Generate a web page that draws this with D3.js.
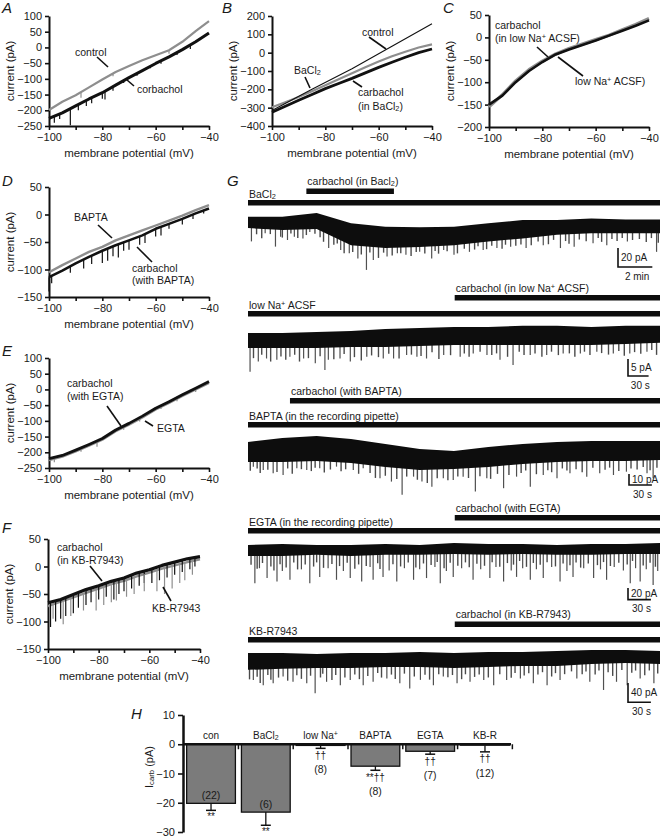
<!DOCTYPE html>
<html>
<head>
<meta charset="utf-8">
<script src="https://cdn.jsdelivr.net/npm/d3@7"></script>
<style>
body { margin: 0; background: #fff; }
svg { display: block; }
text { font-family: 'Liberation Sans', Arial, Helvetica, sans-serif; fill: #1a1a1a; }
</style>
</head>
<body>
<script>
// ---- I-V panels (A-F) ----
const ivVolts = [-100, -95, -90, -85, -80, -75, -70, -65, -60, -55, -50, -45, -40];
const ivTicksX = [-100, -90, -80, -70, -60, -50, -40];
const ivLabelsX = [-100, -80, -60, -40];

const aTicksY = [-250, -200, -150, -100, -50, 0, 50, 100];
const aControl = [-199, -173, -152, -127, -102, -78, -59, -41, -25, -9, 18, 52, 84];
const aCarb = [-226, -208, -186, -164, -144, -120, -96, -74, -51, -30, -7, 18, 46];
const aControlSpikes = [[-88, -160], [-76, -92], [-55, -20], [-52, 8]];
const aCarbSpikes = [[-98, -240], [-96, -228], [-92, -248], [-89, -200], [-86, -186], [-84, -178], [-80, -163],
  [-79, -166], [-76, -138], [-72, -113], [-67, -90], [-62, -66], [-58, -52], [-52, -24], [-47, -5]];

const bTicksY = [-400, -300, -200, -100, 0, 100, 200];
const bControlVolts = [-100, -85, -70, -55, -40];
const bControl = [-315, -200, -88, 35, 158];
const bBaCl2 = [-298, -270, -242, -210, -178, -145, -112, -80, -48, -20, 5, 28, 45];
const bCarb = [-325, -292, -260, -228, -196, -168, -140, -110, -80, -52, -25, 0, 20];

const cTicksY = [-200, -150, -100, -50, 0, 50];
const cLowNa = [-155, -128, -97, -72, -53, -37, -25, -15, -5, 5, 17, 29, 42];
const cCarb = [-150, -130, -100, -75, -55, -38, -27, -17, -7, 4, 15, 26, 38];

const dTicksY = [-150, -100, -50, 0, 50];
const dBapta = [-105, -92, -80, -68, -59, -47, -38, -29, -20, -11, -2, 8, 17];
const dCarb = [-114, -102, -89, -77, -66, -56, -47, -38, -26, -17, -8, 2, 11];
const dCarbSpikes = [[-100, -140], [-99, -125], [-92, -106], [-87, -98], [-84, -90], [-80, -88], [-78, -84], [-76, -76],
  [-74, -78], [-72, -66], [-70, -64], [-66, -55], [-64, -52], [-60, -40], [-58, -38], [-55, -26], [-50, -18], [-46, -8], [-42, 2]];

const eTicksY = [-250, -200, -150, -100, -50, 0, 50, 100];
const eEgta = [-225, -214, -197, -179, -160, -133, -112, -89, -64, -43, -21, 0, 21];
const eCarb = [-220, -210, -193, -175, -156, -129, -108, -85, -60, -39, -17, 4, 25];
const eEgtaSpikes = [[-98, -232], [-88, -198], [-82, -182], [-72, -128], [-66, -102], [-58, -62], [-52, -38], [-45, -8]];

const fTicksY = [-150, -100, -50, 0, 50];
const fKbr = [-72, -64, -56, -48, -40, -32, -26, -18, -11, -4, 2, 8, 13];
const fCarb = [-66, -60, -51, -42, -35, -27, -21, -12, -6, 2, 8, 14, 18];
const fCarbSpikes = [[-99, -110], [-97, -100], [-95, -95], [-93, -90], [-90, -85], [-88, -75], [-85, -70], [-83, -65],
  [-80, -60], [-77, -55], [-74, -60], [-72, -50], [-70, -45], [-67, -40], [-64, -35], [-62, -30], [-59, -30],
  [-56, -25], [-53, -20], [-50, -15], [-47, -10], [-44, -5], [-42, 0]];
const fKbrSpikes = [[-98, -95], [-94, -105], [-91, -90], [-86, -80], [-81, -80], [-78, -70], [-75, -65], [-73, -62],
  [-69, -55], [-66, -50], [-62, -45], [-57, -45], [-54, -50], [-51, -40], [-48, -30], [-46, -25], [-43, -15]];

// ---- G: current traces (band top / bottom in pA, big events [time, pA], small events [time, amplitude]) ----
const g1Time = [0, 2, 4, 6, 8, 10, 12, 14, 16, 18, 20, 22, 24];            // min
const g1Top = [0, 0, 4, -7, -10.5, -11, -10.5, -7, -3.5, -3.5, -2, -3, -3];
const g1Bottom = [-12, -14, -13, -30, -33, -32, -30, -26, -23, -19, -17.5, -17.5, -17.5];
const g1Spikes = [[0.2, -26], [1.0, -17.5], [1.6, -31.5], [1.9, -21], [2.3, -24.5], [2.7, -21], [3.2, -23], [3.6, -16],
  [4.7, -33], [5.4, -35], [5.9, -38.5], [6.4, -44], [6.9, -56], [7.3, -45.5], [8.1, -42], [8.7, -38.5], [9.2, -40],
  [10.0, -37], [10.7, -44], [11.4, -35], [12.0, -40], [12.9, -37], [13.7, -35], [14.5, -33], [15.3, -31.5], [16.2, -33],
  [17.2, -30], [18.2, -33], [19.0, -31.5], [20.1, -28], [20.9, -30], [22.1, -26], [23.8, -37]];
const g1Small = [[0.5, 6], [0.8, 10], [1.3, 5], [2.0, 8], [2.5, 4], [2.9, 9], [3.4, 6], [3.9, 5], [4.2, 7], [4.4, 10],
  [5.0, 8], [5.2, 5], [5.6, 12], [6.1, 7], [6.6, 9], [7.1, 6], [7.6, 11], [7.9, 5], [8.4, 8], [8.9, 6], [9.5, 9],
  [9.8, 5], [10.3, 7], [10.9, 5], [11.1, 8], [11.6, 6], [12.2, 9], [12.6, 5], [13.2, 7], [13.4, 4], [13.9, 8],
  [14.2, 5], [14.8, 9], [15.0, 5], [15.6, 7], [15.9, 6], [16.5, 8], [16.9, 5], [17.5, 9], [17.8, 5], [18.5, 7],
  [18.7, 10], [19.3, 6], [19.7, 8], [20.4, 5], [20.6, 9], [21.2, 6], [21.5, 8], [21.8, 5], [22.4, 7], [22.8, 6],
  [23.2, 9], [23.5, 5], [23.9, 10]];

const g2Time = [0, 50, 100, 150, 200, 250, 300, 350, 400, 450, 500, 550, 600]; // s
const g2Top = [0, 0, 0.3, 0.6, 1.2, 1.5, 1.8, 1.8, 2.1, 2.1, 1.8, 2.1, 2.1];
const g2Bottom = [-4.4, -4.4, -4.4, -4.1, -4.1, -3.8, -3.5, -3.5, -3.5, -3.5, -3.5, -3.2, -2.9];
const g2Spikes = [[3, -11.4], [15, -8.4], [27, -7.5], [42, -7.9], [61, -7], [81, -7.5], [98, -8.9], [112, -10.9],
  [117, -7.9], [134, -7.5], [149, -8.4], [173, -7], [197, -7.5], [212, -7.5], [231, -6.5], [246, -7], [260, -7.5],
  [285, -6.5], [309, -7], [328, -6], [348, -6.5], [367, -7.9], [386, -9.4], [411, -6.5], [435, -6.5], [459, -6],
  [484, -6], [508, -5.5], [532, -6], [556, -6], [581, -5.5]];
const g2Small = [[8, 3], [20, 2], [33, 4], [48, 2.5], [55, 3.5], [68, 2], [75, 4], [88, 3], [105, 2.5], [125, 3.5],
  [140, 2], [155, 3], [165, 4], [180, 2.5], [190, 3], [205, 2], [220, 3.5], [238, 2.5], [252, 3], [268, 2], [278, 4],
  [295, 3], [315, 2.5], [322, 3.5], [338, 2], [355, 3], [362, 2.5], [378, 3.5], [395, 2], [402, 3], [418, 2.5],
  [428, 3.5], [442, 2], [452, 3], [468, 2.5], [476, 3.5], [490, 2], [498, 3], [515, 2.5], [525, 3], [540, 2],
  [548, 3.5], [563, 2.5], [572, 3], [588, 2], [595, 3.5]];

const g3Time = [0, 45, 90, 135, 180, 225, 270, 315, 360, 405, 450, 495, 540]; // s
const g3Top = [0, 3.6, 5.5, 2.7, -1.8, -6.4, -8.2, -4.5, -1.8, 0, 0.9, 0.9, 0.9];
const g3Bottom = [-18.2, -18.2, -17.3, -19.1, -22.7, -25.5, -24.5, -22.7, -20, -18.2, -17.3, -17.3, -16.4];
const g3Spikes = [[7, -22.4], [20, -25.5], [33, -28.5], [46, -30], [64, -23.9], [77, -25.5], [94, -23.9], [116, -22.4],
  [138, -25.5], [151, -23.9], [173, -33], [188, -36], [202, -48], [217, -31.5], [228, -36], [241, -40.6], [256, -33],
  [269, -34.5], [282, -31.5], [298, -45], [313, -33], [335, -42], [352, -31.5], [370, -40.6], [387, -30], [405, -33],
  [422, -28.5], [444, -31.5], [461, -28.5], [479, -30], [496, -27], [523, -28.5], [531, -33]];
const g3Small = [[3, 8], [12, 6], [16, 10], [26, 7], [38, 9], [52, 6], [58, 11], [70, 7], [83, 9], [88, 6], [100, 10],
  [108, 7], [122, 8], [128, 6], [145, 9], [160, 7], [167, 11], [180, 8], [195, 10], [208, 7], [222, 9], [235, 12],
  [248, 8], [262, 10], [275, 7], [289, 9], [304, 8], [318, 11], [327, 7], [342, 9], [358, 8], [364, 6], [378, 10],
  [393, 7], [398, 9], [412, 6], [418, 8], [430, 7], [438, 10], [452, 6], [468, 8], [474, 6], [486, 9], [502, 7],
  [510, 8], [518, 6], [527, 9], [536, 7]];

const g4Time = [0, 45, 90, 135, 180, 225, 270, 315, 360, 405, 450, 495, 540]; // s
const g4Top = [0, 1.7, 0, 0, 1.7, 0, 3.4, 1.7, 1.7, 0, 1.7, 1.7, 3.4];
const g4Bottom = [-19, -19, -17, -19, -17, -17, -15.5, -17, -15.5, -17, -17, -15.5, -15.5];
const g4Spikes = [[9, -66], [15, -40], [25, -57], [38, -63], [45, -45], [55, -60], [70, -42], [81, -66], [94, -55],
  [105, -40], [116, -60], [125, -45], [134, -57], [149, -63], [160, -38], [164, -60], [177, -55], [185, -44],
  [195, -63], [205, -40], [217, -60], [225, -42], [234, -57], [245, -38], [252, -66], [260, -45], [269, -55],
  [280, -40], [295, -60], [305, -42], [317, -57], [325, -38], [335, -63], [345, -44], [352, -55], [360, -40],
  [370, -60], [378, -42], [387, -57], [398, -38], [409, -63], [418, -45], [426, -55], [440, -40], [453, -57],
  [462, -42], [470, -60], [480, -38], [492, -44], [501, -66], [508, -40], [514, -63], [522, -42], [531, -69], [537, -45]];
const g4Small = [[4, 15], [12, 22], [19, 12], [30, 18], [34, 25], [42, 14], [50, 20], [60, 12], [65, 24], [75, 16],
  [86, 20], [90, 13], [99, 22], [110, 15], [120, 18], [130, 12], [140, 22], [145, 15], [155, 18], [170, 14], [173, 24],
  [190, 16], [200, 20], [210, 13], [220, 22], [230, 15], [240, 18], [248, 13], [257, 24], [265, 15], [275, 20],
  [285, 14], [290, 22], [300, 16], [310, 19], [320, 13], [330, 21], [340, 15], [348, 18], [356, 12], [365, 22],
  [374, 15], [383, 18], [392, 13], [403, 20], [413, 15], [422, 18], [430, 13], [436, 22], [446, 15], [458, 18],
  [466, 13], [475, 20], [486, 15], [497, 18], [504, 12], [518, 20], [527, 15], [534, 22]];

const g5Time = [0, 45, 90, 135, 180, 225, 270, 315, 360, 405, 450, 495, 540]; // s
const g5Top = [0, 0, -2, 0, 0, 2, 0, 2, 2, 4, 6, 6, 4];
const g5Bottom = [-35, -33, -31, -31, -29, -29, -31, -29, -27, -27, -23, -21, -23];
const g5Spikes = [[7, -56], [20, -67], [33, -63], [46, -49], [59, -60], [77, -63], [88, -84], [103, -60], [121, -67],
  [134, -56], [151, -67], [164, -60], [182, -53], [199, -63], [212, -74], [226, -56], [243, -67], [256, -49],
  [274, -63], [291, -60], [309, -56], [322, -67], [339, -56], [357, -53], [374, -63], [392, -67], [409, -56],
  [431, -53], [448, -60], [466, -77], [483, -60], [497, -67], [514, -53], [532, -63]];
const g5Small = [[2, 20], [12, 15], [16, 28], [26, 12], [30, 22], [40, 18], [52, 25], [64, 14], [70, 22], [82, 16],
  [95, 20], [98, 12], [110, 25], [115, 15], [127, 20], [140, 14], [146, 24], [157, 18], [170, 12], [175, 22], [188, 16],
  [193, 25], [205, 14], [218, 20], [232, 16], [238, 26], [250, 14], [262, 20], [268, 15], [280, 24], [285, 14],
  [297, 20], [303, 15], [315, 22], [330, 16], [345, 24], [350, 14], [362, 20], [368, 15], [380, 18], [386, 13],
  [398, 22], [403, 15], [415, 18], [424, 13], [438, 20], [443, 15], [455, 22], [460, 14], [472, 18], [478, 26],
  [490, 14], [503, 20], [508, 15], [520, 24], [526, 14], [537, 20]];

// drug application windows [start, end] in each trace's time units
const g1Carb = [3.4, 8.5], g2Carb = [301, 600], g3Carb = [55, 540], g4Carb = [271, 540], g5Carb = [271, 540];

// ---- H: bar chart ----
const hCategories = ["con", "BaCl_2", "low Na^+", "BAPTA", "EGTA", "KB-R"];
const hMeans = [-20.2, -23.2, -0.4, -7.5, -2.4, -0.3];
const hSem = [2.4, 4.5, 1.0, 1.4, 1.0, 2.3];
const hN = ["(22)", "(6)", "(8)", "(8)", "(7)", "(12)"];
const hSig = ["**", "**", "††", "**††", "††", "††"];
const hTicksY = [-30, -20, -10, 0, 10];

const svg = d3.select("body").append("svg").attr("width", 665).attr("height", 837);

const minus = d => d < 0 ? "\u2212" + Math.abs(d) : String(d);

// "_x" / "_{xy}" subscript, "^x" superscript
function rich(text, str) {
  const parts = [];
  let buf = "";
  for (let i = 0; i < str.length; i++) {
    const c = str[i];
    if ((c === "_" || c === "^") && i + 1 < str.length) {
      if (buf) parts.push({ t: buf });
      buf = "";
      let t;
      if (str[i + 1] === "{") {
        const j = str.indexOf("}", i);
        t = str.slice(i + 2, j);
        i = j;
      } else {
        t = str[i + 1];
        i++;
      }
      parts.push({ t, k: c });
    } else buf += c;
  }
  if (buf) parts.push({ t: buf });
  parts.forEach(p => {
    const ts = text.append("tspan").text(p.t);
    if (p.k) ts.attr("font-size", "70%").attr("baseline-shift", p.k === "_" ? "-15%" : "40%");
  });
  return text;
}

function label(x, y, str, size, anchor) {
  const t = svg.append("text").attr("x", x).attr("y", y).attr("dy", "0.35em")
    .attr("font-size", size || 10.5).attr("text-anchor", anchor || "start");
  return rich(t, str);
}

function pointer(x1, y1, x2, y2) {
  svg.append("line").attr("x1", x1).attr("y1", y1).attr("x2", x2).attr("y2", y2)
    .attr("stroke", "#111").attr("stroke-width", 1.6);
}

function letter(x, y, s) {
  svg.append("text").attr("x", x).attr("y", y).attr("font-size", 15).attr("font-style", "italic").text(s);
}

function styleAxis(a, w) {
  a.select(".domain").attr("stroke", "#111").attr("stroke-width", w || 2);
  a.selectAll(".tick line").attr("stroke", "#111").attr("stroke-width", 1.6);
  a.selectAll(".tick text").attr("font-size", 11).attr("fill", "#1a1a1a")
    .attr("font-family", "'Liberation Sans', Arial, sans-serif");
}

function ivPanel(p) {
  const x = d3.scaleLinear().domain([-100, -40]).range([p.x0, p.x1]);
  const y = d3.scaleLinear().domain([p.yTicks[0], p.yTicks[p.yTicks.length - 1]]).range([p.yb, p.yt]);
  const xa = svg.append("g").attr("transform", `translate(0,${p.yb})`)
    .call(d3.axisBottom(x).tickValues(ivTicksX).tickSize(4).tickSizeOuter(0).tickPadding(3)
      .tickFormat(d => ivLabelsX.includes(d) ? minus(d) : ""));
  const ya = svg.append("g").attr("transform", `translate(${p.x0},0)`)
    .call(d3.axisLeft(y).tickValues(p.yTicks).tickSize(4).tickSizeOuter(0).tickPadding(3).tickFormat(minus));
  styleAxis(xa);
  styleAxis(ya);
  svg.append("text").attr("x", (p.x0 + p.x1) / 2).attr("y", p.yb + 27).attr("dy", "0.35em")
    .attr("text-anchor", "middle").attr("font-size", 11.5).text("membrane potential (mV)");
  svg.append("text").attr("transform", `translate(${p.x0 - 39},${(p.yb + p.yt) / 2}) rotate(-90)`)
    .attr("dy", "0.35em").attr("text-anchor", "middle").attr("font-size", 11.5).text("current (pA)");
  const plot = svg.append("g");
  return { x, y, plot };
}

function curve(P, volts, vals, color, w) {
  P.plot.append("path").datum(volts.map((v, i) => [v, vals[i]]))
    .attr("d", d3.line().x(d => P.x(d[0])).y(d => P.y(d[1])))
    .attr("fill", "none").attr("stroke", color).attr("stroke-width", w).attr("stroke-linejoin", "round");
}

function spikes(P, volts, vals, list, color) {
  const along = d3.scaleLinear().domain(volts).range(vals);
  P.plot.selectAll(null).data(list).enter().append("line")
    .attr("x1", d => P.x(d[0])).attr("x2", d => P.x(d[0]))
    .attr("y1", d => P.y(along(d[0]))).attr("y2", d => P.y(d[1]))
    .attr("stroke", color).attr("stroke-width", 1.2);
}

const GRAY = "#8e8e8e", BLACK = "#111";

// A
const A = ivPanel({ x0: 49, x1: 209, yt: 16, yb: 126, yTicks: aTicksY });
spikes(A, ivVolts, aControl, aControlSpikes, GRAY);
curve(A, ivVolts, aControl, GRAY, 2.2);
spikes(A, ivVolts, aCarb, aCarbSpikes, BLACK);
curve(A, ivVolts, aCarb, BLACK, 3);
label(75, 52, "control");
pointer(97, 57, 108, 67);
label(137, 89, "corbachol");
pointer(127, 80, 134, 86);
letter(2, 13, "A");

// B
const B = ivPanel({ x0: 272, x1: 432, yt: 16, yb: 126, yTicks: bTicksY });
curve(B, ivVolts, bCarb, BLACK, 2.8);
curve(B, ivVolts, bBaCl2, GRAY, 2.2);
curve(B, bControlVolts, bControl, BLACK, 1.1);
label(362, 32, "control");
pointer(369, 37, 386, 49);
label(294, 70, "BaCl_2");
pointer(305, 77, 310, 88);
label(358, 92, "carbachol");
label(358, 106, "(in BaCl_2)");
pointer(353, 81, 362, 87);
letter(222, 13, "B");

// C
const C = ivPanel({ x0: 489, x1: 649, yt: 15, yb: 127, yTicks: cTicksY });
curve(C, ivVolts, cLowNa, GRAY, 3.2);
curve(C, ivVolts, cCarb, BLACK, 2.6);
label(495, 25, "carbachol");
label(495, 38, "(in low Na^+ ACSF)");
pointer(537, 47, 548, 57);
label(575, 81, "low Na^+ ACSF)");
pointer(558, 57, 583, 76);
letter(443, 13, "C");

// D
const D = ivPanel({ x0: 49, x1: 209, yt: 187, yb: 297, yTicks: dTicksY });
curve(D, ivVolts, dBapta, GRAY, 2.4);
spikes(D, ivVolts, dCarb, dCarbSpikes, BLACK);
curve(D, ivVolts, dCarb, BLACK, 2.6);
label(74, 217, "BAPTA");
pointer(98, 225, 112, 238);
label(132, 268, "carbachol");
label(132, 280, "(with BAPTA)");
pointer(137, 247, 152, 262);
letter(2, 186, "D");

// E
const E = ivPanel({ x0: 49, x1: 209, yt: 358, yb: 468, yTicks: eTicksY });
spikes(E, ivVolts, eEgta, eEgtaSpikes, GRAY);
curve(E, ivVolts, eEgta, GRAY, 2.4);
curve(E, ivVolts, eCarb, BLACK, 2.8);
label(67, 383, "carbachol");
label(67, 396, "(with EGTA)");
pointer(107, 406, 121, 426);
label(157, 428, "EGTA");
pointer(145, 421, 153, 426);
letter(2, 356, "E");

// F
const F = ivPanel({ x0: 48, x1: 200, yt: 539, yb: 649, yTicks: fTicksY });
curve(F, ivVolts, fKbr, GRAY, 2.4);
spikes(F, ivVolts, fCarb, fCarbSpikes, BLACK);
curve(F, ivVolts, fCarb, BLACK, 3.2);
spikes(F, ivVolts, fKbr, fKbrSpikes, GRAY);
label(57, 547, "carbachol");
label(57, 560, "(in KB-R7943)");
pointer(90, 566, 102, 581);
label(152, 608, "KB-R7943");
pointer(163, 587, 171, 601);
letter(2, 533, "F");

// G
letter(227, 186, "G");

function gTrace(t) {
  const x = d3.scaleLinear().domain([t.time[0], t.time[t.time.length - 1]]).range([248, 660]);
  const y = d3.scaleLinear().domain([0, -10]).range([t.y0, t.y0 + 10 * t.k]);
  const bottomAt = d3.scaleLinear().domain(t.time).range(t.bottom);
  const g = svg.append("g");
  g.selectAll(null).data(t.small).enter().append("line")
    .attr("x1", d => x(d[0])).attr("x2", d => x(d[0]))
    .attr("y1", d => y(bottomAt(d[0])) - 1).attr("y2", d => y(bottomAt(d[0]) - d[1]))
    .attr("stroke", "#4a4a4a").attr("stroke-width", 1.4);
  g.selectAll(null).data(t.spikes).enter().append("line")
    .attr("x1", d => x(d[0])).attr("x2", d => x(d[0]))
    .attr("y1", d => y(bottomAt(d[0])) - 1).attr("y2", d => y(d[1]))
    .attr("stroke", "#505050").attr("stroke-width", 1.2);
  g.append("path").datum(t.time.map((v, i) => [v, t.top[i], t.bottom[i]]))
    .attr("d", d3.area().x(d => x(d[0])).y0(d => y(d[2])).y1(d => y(d[1])))
    .attr("fill", "#0d0d0d");
  // application bars
  g.append("rect").attr("x", x(t.time[0])).attr("width", x(t.time[t.time.length - 1]) - x(t.time[0]))
    .attr("y", t.fullY).attr("height", 5.5).attr("fill", "#0d0d0d");
  g.append("rect").attr("x", x(t.carb[0])).attr("width", x(t.carb[1]) - x(t.carb[0]))
    .attr("y", t.carbY).attr("height", 5.5).attr("fill", "#0d0d0d");
  label(x(t.carb[0]) + 1, t.carbY - 7, t.carbText, 10.5);
  label(249, t.fullY - 6, t.drugText, 10.5);
  // scale bar
  const sx = t.sx, sTop = t.sTop, sBot = sTop + t.size * t.k, sRight = sx + x(t.dur) - x(0);
  g.append("path").attr("d", `M${sx},${sTop}V${sBot}H${sRight}`)
    .attr("fill", "none").attr("stroke", "#111").attr("stroke-width", 1.6);
  label(sx + 3, (sTop + sBot) / 2, t.size + " pA", 10);
  label((sx + sRight) / 2 + 2, sBot + 9, t.durText, 10, "middle");
}

gTrace({ time: g1Time, top: g1Top, bottom: g1Bottom, spikes: g1Spikes, small: g1Small, carb: g1Carb, y0: 216.7, k: 0.95,
  fullY: 200, carbY: 188.5, carbText: "carbachol (in Bacl_2)", drugText: "BaCl_2",
  sx: 618, sTop: 248, size: 20, dur: 2, durText: "2 min" });
gTrace({ time: g2Time, top: g2Top, bottom: g2Bottom, spikes: g2Spikes, small: g2Small, carb: g2Carb, y0: 333, k: 3.4,
  fullY: 311, carbY: 295, carbText: "carbachol (in low Na^+ ACSF)", drugText: "low Na^+ ACSF",
  sx: 628, sTop: 359, size: 5, dur: 30, durText: "30 s" });
gTrace({ time: g3Time, top: g3Top, bottom: g3Bottom, spikes: g3Spikes, small: g3Small, carb: g3Carb, y0: 442, k: 1.1,
  fullY: 422, carbY: 398, carbText: "carbachol (with BAPTA)", drugText: "BAPTA (in the recording pipette)",
  sx: 629, sTop: 474, size: 10, dur: 30, durText: "30 s" });
gTrace({ time: g4Time, top: g4Top, bottom: g4Bottom, spikes: g4Spikes, small: g4Small, carb: g4Carb, y0: 545, k: 0.58,
  fullY: 528, carbY: 515, carbText: "carbachol (with EGTA)", drugText: "EGTA (in the recording pipette)",
  sx: 628, sTop: 588, size: 20, dur: 30, durText: "30 s" });
gTrace({ time: g5Time, top: g5Top, bottom: g5Bottom, spikes: g5Spikes, small: g5Small, carb: g5Carb, y0: 653, k: 0.48,
  fullY: 637, carbY: 621.5, carbText: "carbachol (in KB-R7943)", drugText: "KB-R7943",
  sx: 628, sTop: 683, size: 40, dur: 30, durText: "30 s" });

// H
letter(131, 719, "H");
const hY = d3.scaleLinear().domain([-30, 10]).range([832, 715]);
const hX = d3.scaleBand().domain(hCategories).range([185, 511]).paddingInner(0.11).paddingOuter(0.03);
const hAxis = svg.append("g").attr("transform", "translate(183,0)")
  .call(d3.axisLeft(hY).tickValues(hTicksY).tickSize(5).tickSizeOuter(0).tickPadding(3).tickFormat(minus));
styleAxis(hAxis, 2.5);
svg.append("text").attr("transform", `translate(149,767) rotate(-90)`).attr("dy", "0.35em")
  .attr("text-anchor", "middle").attr("font-size", 11).call(t => rich(t, "I_{carb} (pA)"));

hCategories.forEach((c, i) => {
  const x0 = hX(c), w = hX.bandwidth(), cx = x0 + w / 2;
  const yb = hY(hMeans[i]), ye = hY(hMeans[i] - hSem[i]);
  svg.append("rect").attr("x", x0).attr("y", hY(0)).attr("width", w).attr("height", yb - hY(0))
    .attr("fill", "#7b7b7b").attr("stroke", "#111").attr("stroke-width", 1.3);
  svg.append("line").attr("x1", cx).attr("x2", cx).attr("y1", yb).attr("y2", ye)
    .attr("stroke", "#111").attr("stroke-width", 1.3);
  svg.append("line").attr("x1", cx - 5).attr("x2", cx + 5).attr("y1", ye).attr("y2", ye)
    .attr("stroke", "#111").attr("stroke-width", 1.5);
  label(cx, 735, c, 10, "middle");
  if (hMeans[i] < -15) {
    label(cx, yb - 8, hN[i], 10.5, "middle");
    label(cx, ye + 6, hSig[i], 10, "middle");
  } else {
    label(cx, ye + 7, hSig[i], 10, "middle");
    label(cx, ye + 21, hN[i], 10.5, "middle");
  }
  // small separator tick under the zero line
  const sep = x0 + w + hX.step() * hX.paddingInner() / 2;
  svg.append("line").attr("x1", sep).attr("x2", sep).attr("y1", hY(0)).attr("y2", hY(0) + 5)
    .attr("stroke", "#111").attr("stroke-width", 1.5);
});
svg.append("line").attr("x1", 183).attr("x2", 511).attr("y1", hY(0)).attr("y2", hY(0))
  .attr("stroke", "#111").attr("stroke-width", 2.5);
</script>
</body>
</html>
